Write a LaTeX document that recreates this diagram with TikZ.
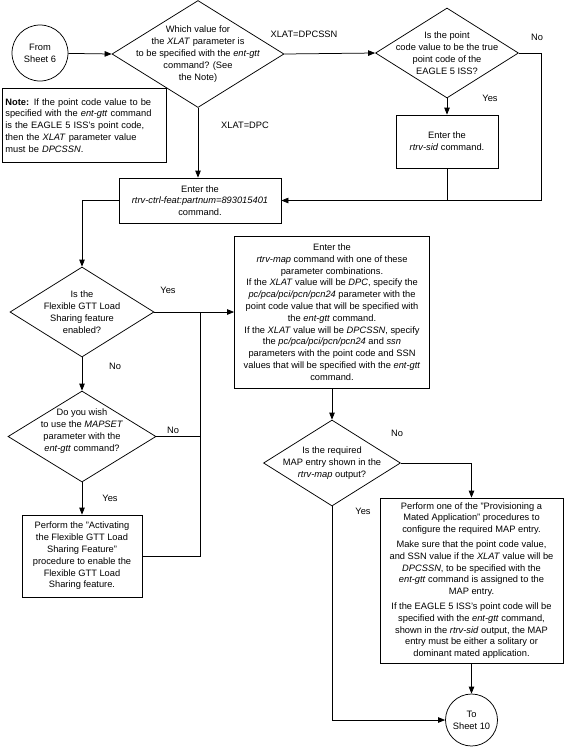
\documentclass[tikz,border=0pt]{standalone}
\usepackage{fontspec}
\setmainfont{Liberation Sans}
\usetikzlibrary{arrows.meta,shapes.geometric}

\begin{document}
\begin{tikzpicture}[
  x=1pt, y=-1pt,
  font=\fontsize{9.3}{11.8}\selectfont,
  line/.style={line width=0.75pt, draw=black},
  arrow/.style={line, -{Triangle[length=7pt, width=5.5pt]}},
  box/.style={draw=black, line width=0.75pt, align=center, inner sep=2pt},
  dia/.style={draw=black, line width=0.75pt, diamond, inner sep=0pt},
  txt/.style={align=center, inner sep=0pt},
  term/.style={draw=black, line width=0.75pt, circle, align=center, inner sep=0pt},
  lbl/.style={inner sep=1pt}
]
\useasboundingbox (0,0) rectangle (565,748);

% Entry and XLAT decision.
\node[term, minimum size=56] (from) at (40,53) {From\\Sheet 6};
\node[dia, minimum width=172, minimum height=107] (xlat) at (198,54) {};
\node[txt] (xlatt) at (xlat) {Which value for\\the \textit{XLAT} parameter is\\to be specified with the \textit{ent-gtt}\\command? (See\\the Note)};
\node[dia, minimum width=143, minimum height=90] (pc) at (447,53) {};
\node[txt] (pct) at (pc) {Is the point\\code value to be the true\\point code of the\\EAGLE 5 ISS?};
\node[box, minimum width=102, minimum height=53] (sid) at (447,141.5) {Enter the\\\textit{rtrv-sid} command.};

\node[box, align=left, text width=158pt, minimum height=74, inner sep=3pt, anchor=north west] (note) at (2,88)
  {\textbf{Note:} If the point code value to be\\specified with the \textit{ent-gtt} command\\is the EAGLE 5 ISS's point code,\\then the \textit{XLAT} parameter value\\must be \textit{DPCSSN}.};

\node[box, minimum width=162, minimum height=45] (ctrl) at (200,200.5) {Enter the\\\textit{rtrv-ctrl-feat:partnum=893015401}\\command.};
\coordinate (cR) at (541,200.5);

% Flexible GTT load sharing branch.
\node[dia, minimum width=144, minimum height=90] (flex) at (82,312) {};
\node[txt] (flext) at (flex) {Is the\\Flexible GTT Load\\Sharing feature\\enabled?};
\node[dia, minimum width=148, minimum height=91] (mapset) at (82,436.5) {};
\node[txt] (mapsett) at (82,431) {Do you wish\\to use the \textit{MAPSET}\\parameter with the\\\textit{ent-gtt} command?};
\node[box, minimum width=120, minimum height=82] (act) at (82,556) {Perform the "Activating\\the Flexible GTT Load\\Sharing Feature"\\procedure to enable the\\Flexible GTT Load\\Sharing feature.};
\coordinate (cM) at (200,312);

% MAP entry branch.
\node[box, minimum width=195, minimum height=152] (map) at (332,312) {Enter the\\\textit{rtrv-map} command with one of these\\parameter combinations.\\If the \textit{XLAT} value will be \textit{DPC}, specify the\\\textit{pc/pca/pci/pcn/pcn24} parameter with the\\point code value that will be specified with\\the \textit{ent-gtt} command.\\If the \textit{XLAT} value will be \textit{DPCSSN}, specify\\the \textit{pc/pca/pci/pcn/pcn24} and \textit{ssn}\\parameters with the point code and SSN\\values that will be specified with the \textit{ent-gtt}\\command.};
\node[dia, minimum width=137, minimum height=86] (mapent) at (332,463) {};
\node[txt] (mapentt) at (mapent) {Is the required\\MAP entry shown in the\\\textit{rtrv-map} output?};
\node[box, minimum width=183, minimum height=165] (prov) at (471.5,580.5) {Perform one of the "Provisioning a\\Mated Application" procedures to\\configure the required MAP entry.\\[3pt]Make sure that the point code value,\\and SSN value if the \textit{XLAT} value will be\\\textit{DPCSSN}, to be specified with the\\\textit{ent-gtt} command is assigned to the\\MAP entry.\\[3pt]If the EAGLE 5 ISS's point code will be\\specified with the \textit{ent-gtt} command,\\shown in the \textit{rtrv-sid} output, the MAP\\entry must be either a solitary or\\dominant mated application.};
\node[term, minimum size=52] (to) at (471.5,720) {To\\Sheet 10};

% Connectors.
\draw[arrow] (from) -- (xlat.west);
\draw[arrow] (xlat.east) -- (pc.west);
\draw[arrow] (pc.south) -- (sid.north);
\draw[arrow] (pc.east) -| (cR) -- (ctrl.east);
\draw[line] (sid.south) -- (sid.south |- cR);
\draw[arrow] (xlat.south) -- (xlat.south |- ctrl.north);
\draw[arrow] (ctrl.west) -| (flex.north);
\draw[arrow] (flex.east) -- (map.west);
\draw[arrow] (flex.south) -- (mapset.north);
\draw[line] (mapset.east) -- (mapset.east -| cM);
\draw[line] (act.east) -| (cM);
\draw[arrow] (mapset.south) -- (act.north);
\draw[arrow] (map.south) -- (mapent.north);
\draw[arrow] (mapent.east) -| (prov.north);
\draw[arrow] (mapent.south) |- (to.west);
\draw[arrow] (prov.south) -- (to.north);

% Branch labels.
\node[lbl] (l1) at (304,34) {XLAT=DPCSSN};
\node[lbl] (l2) at (245,125) {XLAT=DPC};
\node[lbl] (l3) at (537,37) {No};
\node[lbl] (l4) at (490,98) {Yes};
\node[lbl] (l5) at (168,290) {Yes};
\node[lbl] (l6) at (115,366) {No};
\node[lbl] (l7) at (173,430) {No};
\node[lbl] (l8) at (110,498) {Yes};
\node[lbl] (l9) at (397,433) {No};
\node[lbl] (l10) at (363,511) {Yes};
\end{tikzpicture}
\end{document}
